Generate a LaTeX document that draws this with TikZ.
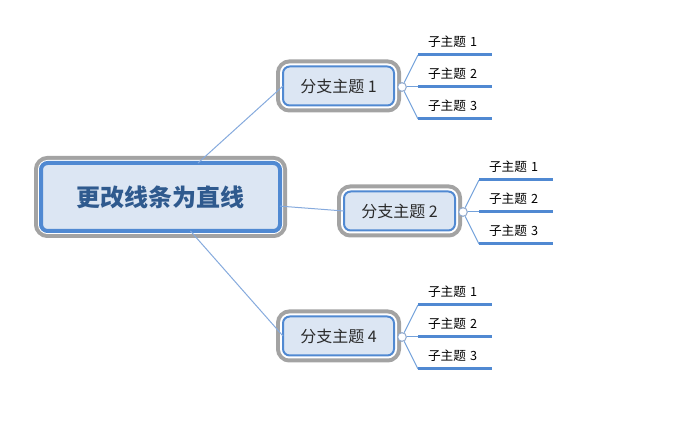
\documentclass[tikz,border=0pt]{standalone}
\usepackage{fontspec}
\setmainfont{Noto Sans CJK SC}
\definecolor{bordblue}{HTML}{5089D2}
\definecolor{fillblue}{HTML}{DCE6F3}
\definecolor{framegray}{HTML}{A3A3A3}
\definecolor{connblue}{HTML}{86AADD}
\definecolor{titleblue}{HTML}{2F5A8E}
\definecolor{txtgray}{HTML}{2A2A2A}
\definecolor{knobgray}{HTML}{8FA8CC}
\begin{document}
\begin{tikzpicture}[x=0.75pt,y=-0.75pt,
  framed/.style={rectangle, rounded corners=5pt, outer sep=0pt, inner sep=0pt,
    fill=fillblue, draw=bordblue,
    preaction={draw=framegray, line width=10.5pt},
    preaction={draw=white, line width=4.5pt}},
  central/.style={framed, line width=3pt, minimum width=179.25pt, minimum height=51pt,
    font=\bfseries\fontsize{18}{20}\selectfont, text=titleblue},
  branch/.style={framed, line width=1.5pt, minimum width=83.25pt, minimum height=29.25pt,
    font=\fontsize{12}{14}\selectfont, text=txtgray},
  knob/.style={circle, draw=knobgray, fill=white, line width=0.75pt, minimum size=6.5pt, inner sep=0pt},
  sub/.style={anchor=south west, outer sep=0pt, inner xsep=7.5pt, inner ysep=0pt,
    text width=40.5pt, align=left, minimum height=19.5pt,
    font=\fontsize{9.5}{11}\selectfont, text=black},
  subline/.style={draw=bordblue, line width=2.25pt},
  conn/.style={draw=connblue, line width=0.75pt},
  subconn/.style={draw=bordblue!80, line width=0.75pt}]
\useasboundingbox (0,0) rectangle (681,423);

\node[central] (c) at (160.5,197) {更改线条为直线};
\node[branch] (b1) at (338.5,86) {分支主题 1};
\node[branch] (b2) at (399.5,211) {分支主题 2};
\node[branch] (b4) at (338.5,336) {分支主题 4};

\draw[conn] (c) -- (b1.west);
\draw[conn] (c) -- (b2.west);
\draw[conn] (c) -- (b4.west);

\node[knob] (k1) at (402,87) {};
\node[knob] (k2) at (463,212) {};
\node[knob] (k4) at (402,337) {};

% branch 1 subtopics
\node[sub] (s11) at (418,55) {子主题 1};
\node[sub] (s12) at (418,87) {子主题 2};
\node[sub] (s13) at (418,119) {子主题 3};
% branch 2 subtopics
\node[sub] (s21) at (479,180) {子主题 1};
\node[sub] (s22) at (479,212) {子主题 2};
\node[sub] (s23) at (479,244) {子主题 3};
% branch 4 subtopics
\node[sub] (s41) at (418,305) {子主题 1};
\node[sub] (s42) at (418,337) {子主题 2};
\node[sub] (s43) at (418,369) {子主题 3};

\foreach \k/\s in {k1/s11,k1/s12,k1/s13,k2/s21,k2/s22,k2/s23,k4/s41,k4/s42,k4/s43}{
  \draw[subconn] (\k) -- (\s.south west);
  \draw[subline] (\s.south west) -- (\s.south east);
}
\end{tikzpicture}
\end{document}
